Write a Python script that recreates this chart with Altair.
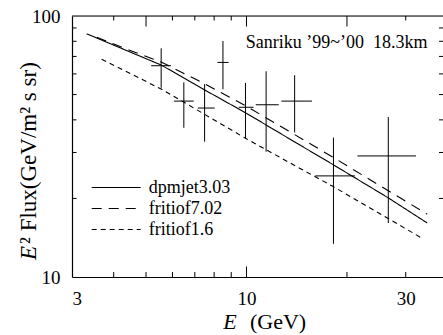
import altair as alt
import pandas as pd

# ---- data ----
series = ["dpmjet3.03", "fritiof7.02", "fritiof1.6"]

dpm_E = [3.32, 4.5, 5.55, 7.49, 9.93, 13.9, 18.22, 26.6, 34.8]
dpm_F = [85.5, 72.6, 64.9, 52.1, 42.6, 33.0, 26.9, 20.1, 16.1]
f702_E = [3.56, 4.5, 5.55, 7.49, 9.93, 13.9, 18.22, 26.6, 34.8]
f702_F = [82.9, 73.6, 66.6, 55.0, 45.3, 35.2, 28.7, 21.4, 17.4]
f16_E = [3.68, 5.55, 7.49, 9.93, 13.9, 18.2, 33.5]
f16_F = [68.3, 52.5, 42.0, 34.0, 26.8, 22.2, 14.1]

E = [5.55, 6.49, 7.49, 8.50, 9.93, 11.45, 13.94, 18.22, 26.6]
F = [64.5, 47.2, 44.4, 66.4, 44.7, 45.7, 47.2, 24.4, 29.1]
E_lo = [5.18, 6.06, 7.15, 8.18, 9.48, 10.66, 12.72, 16.07, 21.5]
E_hi = [5.94, 6.95, 8.03, 8.84, 10.5, 12.49, 15.71, 21.15, 32.2]
F_lo = [53.1, 37.3, 33.0, 52.4, 34.0, 30.2, 35.8, 13.4, 16.1]
F_hi = [75.2, 55.7, 54.8, 80.2, 55.4, 61.4, 59.3, 34.2, 41.0]

x_labels = [3, 10, 30]
y_labels = [10, 100]
bottom_long = [10]
bottom_short = [4, 5, 6, 7, 8, 9, 20, 30]
top_long = [5, 10, 20]
top_short = [4, 6, 7, 8, 9, 30]
y_minor = [20, 30, 40, 50, 60, 70, 80, 90]

annotation = "Sanriku \u201999~\u201900\u00a0\u00a018.3km"

# ---- build tables ----
curves = pd.concat([
    pd.DataFrame({"E": dpm_E, "F": dpm_F, "model": series[0]}),
    pd.DataFrame({"E": f702_E, "F": f702_F, "model": series[1]}),
    pd.DataFrame({"E": f16_E, "F": f16_F, "model": series[2]}),
])
pts = pd.DataFrame({"E": E, "F": F, "Elo": E_lo, "Ehi": E_hi, "Flo": F_lo, "Fhi": F_hi})

W, H = 371, 261
FONT = "Liberation Serif"
xscale = alt.Scale(type="log", domain=[3, 38.8], nice=False)
yscale = alt.Scale(type="log", domain=[10, 100], nice=False)

xaxis = alt.Axis(values=x_labels, format="d", title=None, ticks=False, tickSize=0,
                 labelPadding=12.5, labelFontSize=19, labelFont=FONT, labelColor="black",
                 labelFlush=True, grid=False, domainColor="black", domainWidth=1.2,
                 labelBaseline="top")
yaxis = alt.Axis(values=y_labels, format="d", title=None, ticks=False, tickSize=0,
                 labelPadding=12, labelFontSize=19, labelFont=FONT, labelColor="black",
                 labelFlush=False, grid=False, domainColor="black", domainWidth=1.2)

lines = alt.Chart(curves).mark_line(color="black", strokeWidth=1.1).encode(
    x=alt.X("E:Q", scale=xscale, axis=xaxis),
    y=alt.Y("F:Q", scale=yscale, axis=yaxis),
    strokeDash=alt.StrokeDash(
        "model:N",
        scale=alt.Scale(domain=series, range=[[1, 0], [10, 7], [5, 4]]),
        legend=alt.Legend(title=None, orient="none", legendX=18.7, legendY=162,
                          symbolType="stroke", symbolSize=2401, symbolStrokeWidth=1.1,
                          symbolStrokeColor="black", labelFont=FONT, labelFontSize=18,
                          labelColor="black", labelOffset=7, clipHeight=19, rowPadding=2,
                          padding=0, labelLimit=300),
    ),
)

hbar = alt.Chart(pts).mark_rule(color="black", strokeWidth=1).encode(
    x=alt.X("Elo:Q", scale=xscale, axis=xaxis), x2="Ehi:Q",
    y=alt.Y("F:Q", scale=yscale, axis=yaxis),
)
vbar = alt.Chart(pts).mark_rule(color="black", strokeWidth=1).encode(
    x=alt.X("E:Q", scale=xscale, axis=xaxis),
    y=alt.Y("Flo:Q", scale=yscale, axis=yaxis), y2="Fhi:Q",
)


def xticks(vals, y0, y1):
    return alt.Chart(pd.DataFrame({"v": vals})).mark_rule(color="black", strokeWidth=1).encode(
        x=alt.X("v:Q", scale=xscale, axis=xaxis), y=alt.value(y0), y2=alt.value(y1))


def yticks(vals, x0, x1):
    return alt.Chart(pd.DataFrame({"v": vals})).mark_rule(color="black", strokeWidth=1).encode(
        y=alt.Y("v:Q", scale=yscale, axis=yaxis), x=alt.value(x0), x2=alt.value(x1))


one = pd.DataFrame({"a": [0]})
top_border = alt.Chart(one).mark_rule(color="black", strokeWidth=1.2).encode(
    x=alt.value(0), x2=alt.value(W), y=alt.value(0))


def label(text, x, y, size, italic=False, angle=0, align="left", baseline="alphabetic"):
    kw = dict(text=text, font=FONT, fontSize=size, color="black", align=align,
              baseline=baseline, angle=angle)
    if italic:
        kw["fontStyle"] = "italic"
    return alt.Chart(one).mark_text(**kw).encode(x=alt.value(x), y=alt.value(y))


texts = [
    label(annotation, 173.7, 26.7, 18, baseline="middle"),
    label("E", 151.3, 313, 22, italic=True),
    label("(GeV)", 178, 313, 22),
    label("E", -36, 244, 23, italic=True, angle=270),
    label("\u00b2 Flux(GeV/m\u00b2 s sr)", -36, 228, 23, angle=270),
]

chart = alt.layer(
    lines, hbar, vbar,
    xticks(bottom_long, H, H - 10.5), xticks(bottom_short, H, H - 5),
    xticks(top_long, 0, 10.5), xticks(top_short, 0, 4.5),
    yticks(y_minor, 0, 4.5), yticks(y_minor, W, W - 4),
    top_border, *texts,
).properties(
    width=W, height=H,
    autosize=alt.AutoSizeParams(type="none"),
    padding={"left": 72, "top": 16, "right": 0, "bottom": 58},
).configure_view(stroke=None).configure(font=FONT, background="white")

chart.save("out.html", embed_options={"renderer": "svg", "actions": False})
